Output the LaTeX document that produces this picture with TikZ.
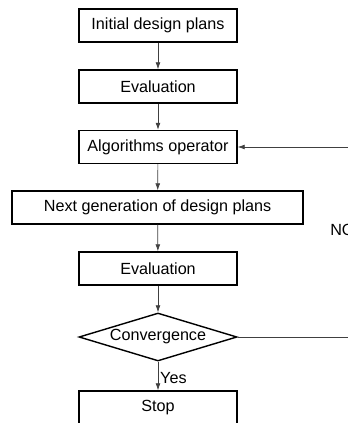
\documentclass[tikz,border=0pt]{standalone}
\usepackage{fontspec}
\setmainfont{Liberation Sans}
\usetikzlibrary{arrows.meta}
\usetikzlibrary{shapes.geometric}

\begin{document}
\begin{tikzpicture}[main node/.style={draw,line width=1pt,rectangle,minimum width=3.95cm,minimum height=0.825cm,inner sep=0pt,font=\fontsize{11.5}{13}\selectfont},
    flow/.style={-{Latex[length=5pt,width=3.5pt]},black!75,line width=0.5pt}]
    \clip (0,0) rectangle (8.7,-10.575);

    \node[main node](init) at (3.95,-0.6375) {Initial design plans};
    \node[main node](eval1) at (3.95,-2.1625) {Evaluation};
    \node[main node](algo) at (3.95,-3.675) {Algorithms operator};
    \node[main node, minimum width=7.275cm](next) at (3.94,-5.1875) {Next generation of design plans};
    \node[main node](eval2) at (3.95,-6.7125) {Evaluation};
    \node[main node, diamond, aspect=3.3, minimum width=3.95cm, minimum height=1.2cm](conv) at (3.95,-8.425) {Convergence};
    \node[main node](stop) at (3.95,-10.1875) {Stop};
    \coordinate (c1) at (9.0,-8.425);
    \coordinate (c2) at (9.0,-3.675);

    \draw[flow] (init) -- (eval1);
    \draw[flow] (eval1) -- (algo);
    \draw[flow] (algo) -- (next);
    \draw[flow] (next) -- (eval2);
    \draw[flow] (eval2) -- (conv);
    \draw[flow] (conv) -- node[right=-2pt, yshift=-1.5pt, black, font=\fontsize{11.5}{13}\selectfont] (yes) {Yes} (stop);
    \draw[flow] (conv.east) -- (c1) -- (c2) -- (algo.east);

    \node[anchor=west, inner sep=0pt, font=\fontsize{11.5}{13}\selectfont] (no) at (8.25,-5.75) {NO};
  \end{tikzpicture}
\end{document}
